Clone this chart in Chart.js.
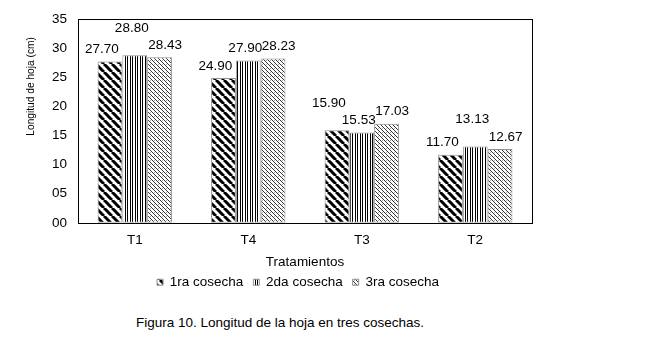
<!DOCTYPE html>
<html lang="es">
<head>
    <meta charset="UTF-8">
    <title>Longitud de hoja en tres cosechas</title>
    <script src="https://cdn.jsdelivr.net/npm/chart.js"></script>
    <style>
        body {
            margin: 0;
            background: #fff;
            font-family: Arial, "Liberation Sans", sans-serif;
        }
        .wrap {
            position: relative;
            width: 650px;
            height: 338px;
        }
        .chart-box {
            position: absolute;
            left: 0;
            top: 0;
            width: 650px;
            height: 300px;
        }
        .caption {
            position: absolute;
            left: 0;
            top: 315px;
            width: 560px;
            text-align: center;
            font-size: 13.5px;
            color: #000;
        }
    </style>
</head>
<body>

<div class="wrap">
    <div class="chart-box"><canvas id="hojaChart"></canvas></div>
    <div class="caption">Figura 10. Longitud de la hoja en tres cosechas.</div>
</div>

<script>
    // data
    const tratamientos = ["T1", "T4", "T3", "T2"];
    const cosecha1 = [27.70, 24.90, 15.90, 11.70];
    const cosecha2 = [28.80, 27.90, 15.53, 13.13];
    const cosecha3 = [28.43, 28.23, 17.03, 12.67];
    const seriesNames = ["1ra cosecha", "2da cosecha", "3ra cosecha"];
    const yTickLabels = ["00", "05", "10", "15", "20", "25", "30", "35"];
    const yTitle = "Longitud de hoja (cm)";

    const FONT = "Arial, 'Liberation Sans', sans-serif";

    // hatch fills like the excel patterns
    function makePattern(kind) {
        const c = document.createElement("canvas");
        const g = c.getContext("2d");
        if (kind === "diag") {
            c.width = 8; c.height = 8;
            g.fillStyle = "#fff";
            g.fillRect(0, 0, 8, 8);
            g.strokeStyle = "#000";
            g.lineWidth = 3;
            for (let x = -8; x <= 8; x += 8) {
                g.beginPath();
                g.moveTo(x, 0);
                g.lineTo(x + 8, 8);
                g.stroke();
            }
        } else if (kind === "vert") {
            c.width = 5; c.height = 1;
            g.fillStyle = "#fff";
            g.fillRect(0, 0, 5, 1);
            g.fillStyle = "#000";
            g.fillRect(0, 0, 1, 1);
            g.fillRect(2, 0, 1, 1);
        } else {
            c.width = 4; c.height = 4;
            g.fillStyle = "#fff";
            g.fillRect(0, 0, 4, 4);
            g.fillStyle = "#333";
            for (let i = 0; i < 4; i++) g.fillRect(i, i, 1, 1);
            g.fillStyle = "#aaa";
            g.fillRect(2, 0, 1, 1);
        }
        return g.createPattern(c, "repeat");
    }

    const fills = [makePattern("diag"), makePattern("vert"), makePattern("fine")];

    // box around the plot area + the y title (sits high, like in excel)
    const frame = {
        id: "frame",
        beforeDraw(chart) {
            // legend sits a bit left of the plot centre in the original
            if (chart.legend && !chart.legend._nudged) {
                chart.legend.left -= 7;
                chart.legend.right -= 7;
                chart.legend._nudged = true;
            }
        },
        afterDatasetsDraw(chart) {
            const a = chart.chartArea;
            const g = chart.ctx;
            g.save();
            g.strokeStyle = "#000";
            g.lineWidth = 1;
            g.strokeRect(Math.round(a.left) + 0.5, Math.round(a.top) + 0.5,
                Math.round(a.right - a.left), Math.round(a.bottom - a.top));

            g.translate(a.left - 47, a.top + 18);
            g.rotate(-Math.PI / 2);
            g.font = "10.2px " + FONT;
            g.fillStyle = "#000";
            g.textAlign = "right";
            g.textBaseline = "middle";
            g.fillText(yTitle, 0, 0);
            g.restore();
        }
    };

    // value labels, nudged sideways per series; taller bar's label goes up when two collide
    const labelShift = [-8, -3, 5.5];
    const valueLabels = {
        id: "valueLabels",
        afterDatasetsDraw(chart) {
            const g = chart.ctx;
            g.save();
            g.font = "13.5px " + FONT;
            g.fillStyle = "#000";
            g.textAlign = "center";
            g.textBaseline = "middle";
            tratamientos.forEach((t, i) => {
                const items = chart.data.datasets.map((ds, di) => {
                    const bar = chart.getDatasetMeta(di).data[i];
                    const txt = ds.data[i].toFixed(2);
                    const w = g.measureText(txt).width;
                    return { txt, v: ds.data[i], x: bar.x + labelShift[di], y: bar.y - 12, w };
                });
                for (let k = 0; k < items.length - 1; k++) {
                    const a = items[k], b = items[k + 1];
                    const overlapX = (a.w + b.w) / 2 - Math.abs(a.x - b.x) > 2;
                    const overlapY = Math.abs(a.y - b.y) < 13;
                    if (overlapX && overlapY) {
                        if (a.v > b.v) a.y -= 15; else b.y -= 15;
                    }
                }
                items.forEach(it => g.fillText(it.txt, it.x, it.y));
            });
            g.restore();
        }
    };

    const ctx = document.getElementById("hojaChart").getContext("2d");
    new Chart(ctx, {
        type: "bar",
        data: {
            labels: tratamientos,
            datasets: [cosecha1, cosecha2, cosecha3].map((vals, i) => ({
                label: seriesNames[i],
                data: vals,
                backgroundColor: fills[i],
                borderColor: "#8f8f8f",
                borderWidth: 1,
                borderSkipped: false,
                categoryPercentage: 0.655,
                barPercentage: 1
            }))
        },
        options: {
            responsive: true,
            maintainAspectRatio: false,
            animation: false,
            layout: { padding: { left: 41, right: 118, top: 16, bottom: 1 } },
            plugins: {
                tooltip: { enabled: false },
                legend: {
                    position: "bottom",
                    fullSize: false,
                    labels: {
                        boxWidth: 6,
                        boxHeight: 6,
                        padding: 10,
                        color: "#000",
                        font: { family: FONT, size: 13.5 }
                    }
                }
            },
            scales: {
                x: {
                    grid: { display: false, drawTicks: false },
                    border: { display: false },
                    ticks: { color: "#000", padding: 11, font: { family: FONT, size: 13.5, lineHeight: 1 } },
                    title: {
                        display: true,
                        text: "Tratamientos",
                        color: "#000",
                        padding: { top: -4, bottom: -5 },
                        font: { family: FONT, size: 13.5 }
                    }
                },
                y: {
                    min: 0,
                    max: 35,
                    grid: { display: false, drawTicks: false },
                    border: { display: false },
                    ticks: {
                        stepSize: 5,
                        padding: 11,
                        color: "#000",
                        font: { family: FONT, size: 13.5 },
                        callback: (v) => yTickLabels[v / 5]
                    }
                }
            }
        },
        plugins: [frame, valueLabels]
    });
</script>

</body>
</html>
